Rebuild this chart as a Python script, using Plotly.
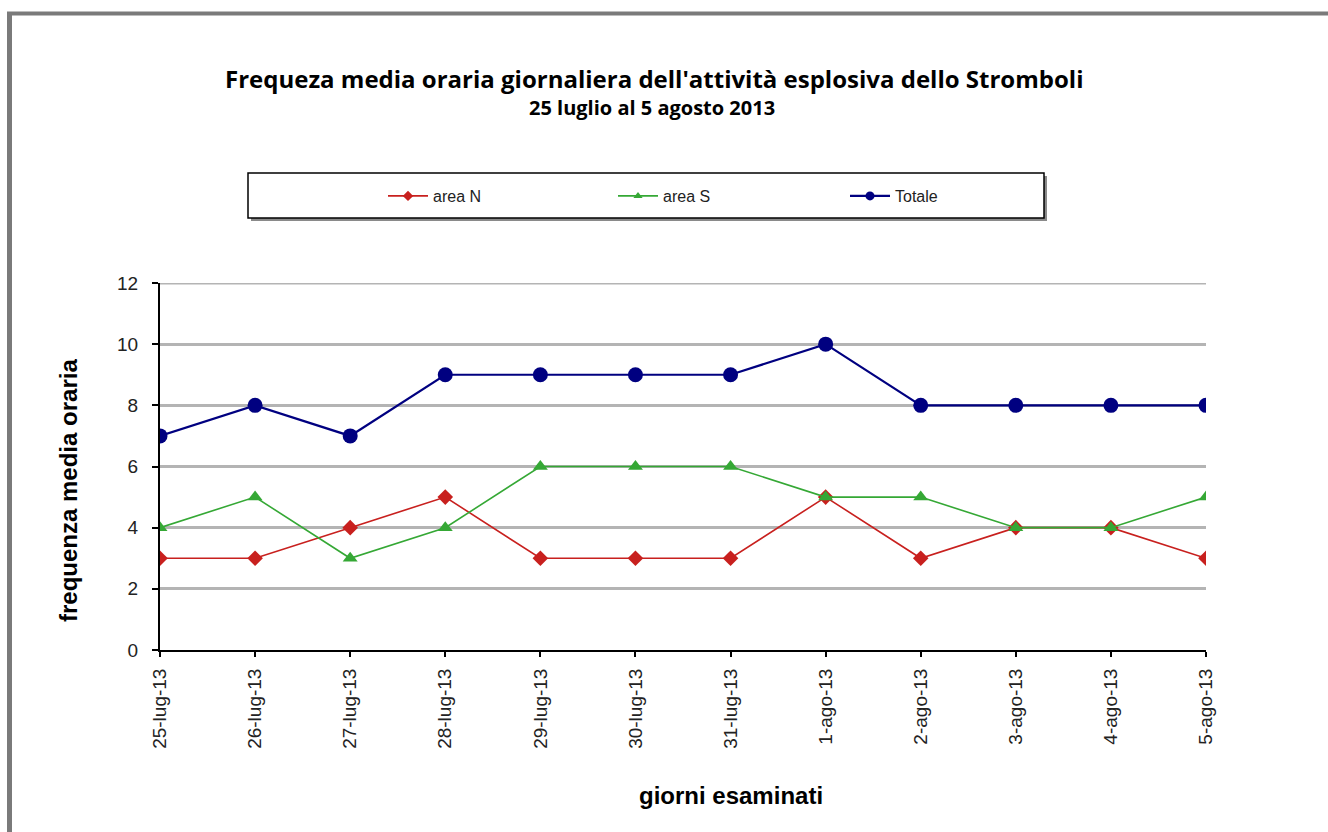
import plotly.graph_objects as go

giorni = ["25-lug-13", "26-lug-13", "27-lug-13", "28-lug-13", "29-lug-13", "30-lug-13",
          "31-lug-13", "1-ago-13", "2-ago-13", "3-ago-13", "4-ago-13", "5-ago-13"]
area_n = [3, 3, 4, 5, 3, 3, 3, 5, 3, 4, 4, 3]
area_s = [4, 5, 3, 4, 6, 6, 6, 5, 5, 4, 4, 5]
totale = [7, 8, 7, 9, 9, 9, 9, 10, 8, 8, 8, 8]

serie = [
    # name, values, colour, symbol, marker size, legend marker size, line width, legend id
    ("area N", area_n, "#c8201e", "diamond", 12, 8, 1.6, "legend"),
    ("area S", area_s, "#35a835", "triangle-up", 13, 8, 1.6, "legend2"),
    ("Totale", totale, "#000080", "circle", 15, 9, 2.2, "legend3"),
]

W, H = 1328, 832
L, R, T, B = 160, 1206, 283, 650


def px(x):
    return (x - L) / (R - L)


def py(y):
    return (B - y) / (B - T)


fig = go.Figure()
for name, vals, col, sym, ms, lms, lw, leg in serie:
    fig.add_trace(go.Scatter(x=giorni, y=vals, name=name, mode="lines+markers",
                             line=dict(color=col, width=lw),
                             marker=dict(symbol=sym, size=ms, color=col),
                             showlegend=False))
    # legend key with a smaller marker
    fig.add_trace(go.Scatter(x=[None], y=[None], name=name, mode="lines+markers",
                             line=dict(color=col, width=lw),
                             marker=dict(symbol=sym, size=lms, color=col),
                             showlegend=True, legend=leg))

legend_style = dict(orientation="h", yanchor="middle", xanchor="left", y=py(196),
                    bgcolor="rgba(0,0,0,0)", borderwidth=0, itemwidth=40,
                    font=dict(family="Liberation Sans", size=16, color="#222"))

shapes = [
    # legend frame with shadow
    dict(type="rect", xref="paper", yref="paper",
         x0=px(251), x1=px(1047), y0=py(221), y1=py(176),
         fillcolor="#8a8a8a", line=dict(width=0), layer="below"),
    dict(type="rect", xref="paper", yref="paper",
         x0=px(248), x1=px(1044), y0=py(218), y1=py(173),
         fillcolor="white", line=dict(color="black", width=1.5), layer="below"),
    # top gridline at the upper end of the value axis
    dict(type="line", xref="paper", yref="y", x0=0, x1=1, y0=12, y1=12,
         line=dict(color="#b4b4b4", width=3), layer="below"),
    # outer border
    dict(type="line", xref="paper", yref="paper",
         x0=px(7), x1=px(1340), y0=py(13.5), y1=py(13.5),
         line=dict(color="#7a7a7a", width=4)),
    dict(type="line", xref="paper", yref="paper",
         x0=px(9.5), x1=px(9.5), y0=py(12), y1=py(840),
         line=dict(color="#7a7a7a", width=5)),
]

annotations = [
    dict(text="<b>Frequeza media oraria giornaliera dell'attività esplosiva dello Stromboli</b>",
         xref="paper", yref="paper", x=px(654), y=py(78), showarrow=False,
         font=dict(family="Open Sans", size=24, color="black"), xanchor="center", yanchor="middle"),
    dict(text="<b>25 luglio al 5 agosto 2013</b>",
         xref="paper", yref="paper", x=px(652), y=py(107), showarrow=False,
         font=dict(family="Open Sans", size=20, color="black"), xanchor="center", yanchor="middle"),
    dict(text="<b>frequenza media oraria</b>",
         xref="paper", yref="paper", x=px(68), y=py(491), showarrow=False, textangle=-90,
         font=dict(family="Liberation Sans", size=24, color="black"), xanchor="center", yanchor="middle"),
    dict(text="<b>giorni esaminati</b>",
         xref="paper", yref="paper", x=px(731), y=py(795), showarrow=False,
         font=dict(family="Liberation Sans", size=24, color="black"), xanchor="center", yanchor="middle"),
]

fig.update_layout(
    width=W, height=H,
    margin=dict(l=L, r=W - R, t=T, b=H - B),
    paper_bgcolor="white", plot_bgcolor="white",
    showlegend=True,
    legend=dict(legend_style, x=px(383)),
    legend2=dict(legend_style, x=px(613)),
    legend3=dict(legend_style, x=px(845)),
    shapes=shapes,
    annotations=annotations,
    xaxis=dict(type="category", range=[0, 11], showgrid=False,
               showline=True, linecolor="black", linewidth=2,
               ticks="outside", ticklen=5, tickcolor="black", tickwidth=2, tickangle=-90,
               ticklabelstandoff=4,
               tickfont=dict(family="Liberation Sans", size=19, color="#222")),
    yaxis=dict(range=[0, 12], dtick=2, showgrid=True, gridcolor="#b4b4b4", gridwidth=3,
               showline=True, linecolor="black", linewidth=2, zeroline=False,
               ticks="outside", ticklen=6, tickcolor="black", tickwidth=2,
               ticklabelstandoff=10,
               tickfont=dict(family="Liberation Sans", size=19, color="#222")),
)

fig.write_html("out.html")
